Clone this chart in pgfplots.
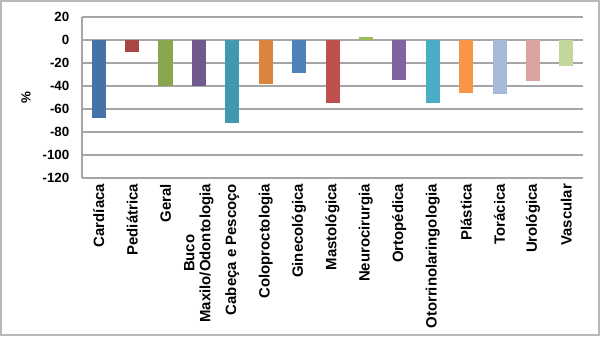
\documentclass[border=0pt]{standalone}
\usepackage{fontspec}
\setmainfont{Liberation Sans}
\usepackage{pgfplots}
\pgfplotsset{compat=1.18}
\definecolor{c1}{HTML}{4572A7}
\definecolor{c2}{HTML}{AA4643}
\definecolor{c3}{HTML}{89A54E}
\definecolor{c4}{HTML}{71588F}
\definecolor{c5}{HTML}{4198AF}
\definecolor{c6}{HTML}{DB843D}
\definecolor{c7}{HTML}{4F81BD}
\definecolor{c8}{HTML}{C0504D}
\definecolor{c9}{HTML}{9BBB59}
\definecolor{c10}{HTML}{8064A2}
\definecolor{c11}{HTML}{4BACC6}
\definecolor{c12}{HTML}{F79646}
\definecolor{c13}{HTML}{A7B9DA}
\definecolor{c14}{HTML}{D9A3A1}
\definecolor{c15}{HTML}{C3D69B}
\definecolor{gridgray}{HTML}{A6A6A6}
\begin{document}
\begin{tikzpicture}
\draw[color=black!28, line width=1.4pt] (0.7pt,-0.7pt) rectangle (449.3pt,-251.3pt);
\begin{axis}[
  at={(61.5pt,-12.75pt)}, anchor=north west,
  scale only axis, width=375.75pt, height=120.75pt,
  xmin=-0.5, xmax=14.5, ymin=-120, ymax=20,
  ytick={-120,-100,...,20},
  xtick={0,...,14},
  xticklabels={Cardíaca,Pediátrica,Geral,{Buco\\Maxilo/Odontologia},Cabeça e Pescoço,Coloproctologia,Ginecológica,Mastológica,Neurocirurgia,Ortopédica,Otorrinolaringologia,Plástica,Torácica,Urológica,Vascular},
  xticklabel style={rotate=90, anchor=east, align=center, font=\fontsize{11.2}{12}\selectfont\bfseries, xshift=-1pt},
  yticklabel style={font=\fontsize{10}{11}\selectfont\bfseries, xshift=-6pt},
  /pgf/number format/assume math mode=true,
  ylabel={\%}, ylabel style={font=\fontsize{10}{11}\selectfont\bfseries, yshift=2pt},
  axis x line*=bottom, axis y line*=left,
  axis line style={draw=gridgray, line width=0.8pt, -},
  major tick length=0pt,
  ymajorgrids, grid style={draw=gridgray, line width=0.8pt},
  ybar, bar width=10.5pt, bar shift=0pt,
  every axis plot/.append style={draw=none},
]
\addplot[fill=c1] coordinates {(0,-68)};
\addplot[fill=c2] coordinates {(1,-10)};
\addplot[fill=c3] coordinates {(2,-40)};
\addplot[fill=c4] coordinates {(3,-40)};
\addplot[fill=c5] coordinates {(4,-72)};
\addplot[fill=c6] coordinates {(5,-38)};
\addplot[fill=c7] coordinates {(6,-29)};
\addplot[fill=c8] coordinates {(7,-55)};
\addplot[fill=c9] coordinates {(8,3)};
\addplot[fill=c10] coordinates {(9,-35)};
\addplot[fill=c11] coordinates {(10,-55)};
\addplot[fill=c12] coordinates {(11,-46)};
\addplot[fill=c13] coordinates {(12,-47)};
\addplot[fill=c14] coordinates {(13,-36)};
\addplot[fill=c15] coordinates {(14,-23)};
\end{axis}
\end{tikzpicture}
\end{document}
